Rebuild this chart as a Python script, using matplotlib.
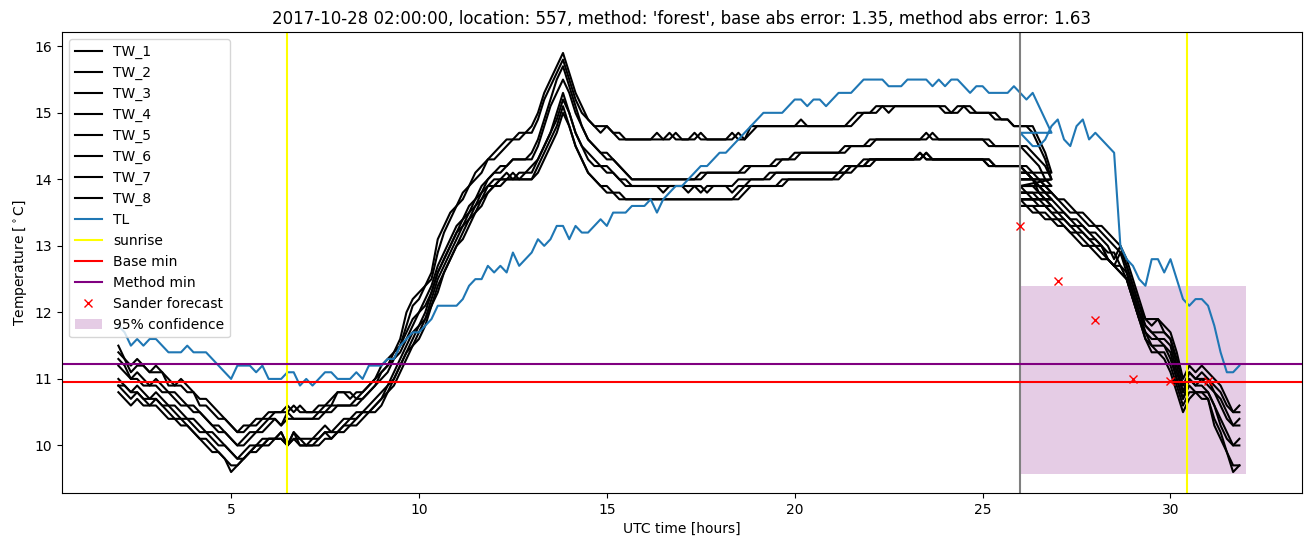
import numpy as np
import matplotlib
matplotlib.use("Agg")
import matplotlib.pyplot as plt

# time axis: 10-minute samples; local-clock hours repeat 26-27 (DST change)
hours_a = 2 + np.arange(150) / 6.0
hours_b = 26 + np.arange(36) / 6.0
hours = np.concatenate([hours_a, hours_b])

tw_1 = [11.5, 11.3, 11.2, 11.3, 11.2, 11.1,
        11.2, 11.1, 11.0, 10.9, 11.0, 10.9,
        10.8, 10.7, 10.7, 10.6, 10.5, 10.4,
        10.3, 10.2, 10.3, 10.3, 10.4, 10.4,
        10.5, 10.5, 10.5, 10.6, 10.5, 10.6,
        10.5, 10.5, 10.6, 10.6, 10.7, 10.8,
        10.8, 10.7, 10.8, 10.8, 10.9, 11.0,
        11.2, 11.3, 11.4, 11.6, 12.0, 12.2,
        12.3, 12.4, 12.6, 13.1, 13.3, 13.5,
        13.6, 13.8, 13.9, 14.1, 14.2, 14.3,
        14.4, 14.5, 14.6, 14.6, 14.7, 14.7,
        14.8, 15.0, 15.3, 15.5, 15.7, 15.9,
        15.6, 15.3, 15.1, 14.9, 14.8, 14.8,
        14.8, 14.7, 14.6, 14.6, 14.6, 14.6,
        14.6, 14.6, 14.7, 14.6, 14.6, 14.7,
        14.6, 14.6, 14.7, 14.6, 14.6, 14.6,
        14.6, 14.6, 14.7, 14.6, 14.6, 14.8,
        14.8, 14.8, 14.8, 14.8, 14.8, 14.8,
        14.8, 14.8, 14.8, 14.8, 14.8, 14.8,
        14.8, 14.8, 14.8, 14.9, 15.0, 15.0,
        15.0, 15.1, 15.1, 15.0, 15.1, 15.1,
        15.1, 15.1, 15.1, 15.1, 15.1, 15.1,
        15.0, 15.0, 15.1, 15.1, 15.1, 15.0,
        15.0, 15.0, 14.9, 14.9, 14.9, 14.8,
        14.8, 14.8, 14.8, 14.6, 14.4, 14.1,
        14.1, 14.1, 14.0, 14.0, 13.9, 13.8,
        13.7, 13.7, 13.6, 13.5, 13.5, 13.4,
        13.3, 13.3, 13.2, 13.1, 13.0, 12.8,
        12.5, 12.2, 11.9, 11.9, 11.9, 11.8,
        11.7, 11.4, 11.0, 11.2, 11.1, 11.2,
        11.1, 11.0, 10.9, 10.7, 10.5, 10.6]

tw_2 = [11.4, 11.3, 11.1, 11.2, 11.2, 11.1,
        11.1, 11.1, 10.9, 10.9, 10.9, 10.8,
        10.8, 10.6, 10.6, 10.5, 10.4, 10.4,
        10.3, 10.2, 10.2, 10.3, 10.3, 10.4,
        10.4, 10.5, 10.5, 10.5, 10.6, 10.5,
        10.5, 10.5, 10.5, 10.6, 10.6, 10.8,
        10.8, 10.8, 10.7, 10.8, 10.9, 11.0,
        11.1, 11.2, 11.4, 11.5, 11.8, 12.1,
        12.2, 12.4, 12.5, 12.9, 13.2, 13.4,
        13.6, 13.7, 13.9, 14.0, 14.1, 14.3,
        14.3, 14.4, 14.5, 14.6, 14.6, 14.7,
        14.7, 14.9, 15.2, 15.4, 15.6, 15.8,
        15.5, 15.2, 15.0, 14.9, 14.8, 14.7,
        14.8, 14.7, 14.7, 14.6, 14.6, 14.6,
        14.6, 14.6, 14.6, 14.6, 14.7, 14.6,
        14.6, 14.6, 14.6, 14.7, 14.6, 14.6,
        14.6, 14.6, 14.6, 14.7, 14.6, 14.7,
        14.8, 14.8, 14.8, 14.8, 14.8, 14.8,
        14.8, 14.9, 14.8, 14.8, 14.8, 14.8,
        14.8, 14.8, 14.8, 14.8, 14.9, 15.0,
        15.0, 15.0, 15.1, 15.1, 15.1, 15.1,
        15.1, 15.1, 15.1, 15.1, 15.1, 15.1,
        15.1, 15.0, 15.0, 15.1, 15.0, 15.0,
        15.0, 15.0, 15.0, 14.9, 14.9, 14.8,
        14.8, 14.8, 14.7, 14.5, 14.3, 14.0,
        14.0, 14.0, 14.0, 13.9, 13.8, 13.8,
        13.7, 13.6, 13.5, 13.5, 13.4, 13.3,
        13.3, 13.2, 13.1, 13.0, 12.9, 12.7,
        12.4, 12.1, 11.9, 11.8, 11.9, 11.7,
        11.6, 11.3, 10.9, 11.1, 11.0, 11.1,
        11.0, 10.9, 10.8, 10.6, 10.5, 10.5]

tw_3 = [11.3, 11.2, 11.0, 11.1, 11.0, 10.9,
        11.0, 10.9, 10.8, 10.8, 10.7, 10.6,
        10.6, 10.5, 10.4, 10.3, 10.3, 10.2,
        10.1, 10.0, 10.1, 10.2, 10.2, 10.3,
        10.4, 10.4, 10.3, 10.5, 10.4, 10.4,
        10.4, 10.4, 10.5, 10.5, 10.6, 10.6,
        10.6, 10.6, 10.7, 10.7, 10.8, 10.9,
        11.1, 11.2, 11.3, 11.5, 11.7, 11.9,
        12.0, 12.2, 12.4, 12.7, 12.9, 13.1,
        13.3, 13.4, 13.6, 13.7, 13.9, 14.0,
        14.1, 14.2, 14.2, 14.3, 14.3, 14.3,
        14.4, 14.6, 14.9, 15.2, 15.5, 15.7,
        15.4, 15.1, 14.8, 14.6, 14.5, 14.4,
        14.4, 14.3, 14.2, 14.1, 14.0, 14.0,
        14.0, 14.0, 14.0, 14.0, 14.0, 14.0,
        14.0, 14.0, 14.0, 14.1, 14.1, 14.1,
        14.1, 14.1, 14.1, 14.1, 14.1, 14.2,
        14.2, 14.2, 14.2, 14.2, 14.3, 14.3,
        14.3, 14.4, 14.4, 14.4, 14.4, 14.4,
        14.4, 14.4, 14.4, 14.5, 14.5, 14.5,
        14.5, 14.6, 14.6, 14.6, 14.6, 14.6,
        14.6, 14.6, 14.6, 14.7, 14.6, 14.6,
        14.6, 14.6, 14.6, 14.6, 14.6, 14.6,
        14.6, 14.5, 14.5, 14.5, 14.5, 14.5,
        14.5, 14.5, 14.4, 14.3, 14.2, 14.0,
        13.9, 13.9, 13.9, 13.8, 13.7, 13.7,
        13.6, 13.5, 13.4, 13.4, 13.3, 13.2,
        13.2, 13.1, 13.0, 12.8, 13.0, 12.7,
        12.4, 12.1, 11.8, 11.7, 11.7, 11.7,
        11.6, 11.2, 10.8, 11.1, 11.0, 11.0,
        11.0, 10.8, 10.7, 10.5, 10.3, 10.4]

tw_4 = [11.2, 11.1, 11.0, 11.0, 10.9, 10.9,
        10.9, 10.8, 10.8, 10.7, 10.6, 10.6,
        10.5, 10.5, 10.4, 10.3, 10.2, 10.2,
        10.1, 10.0, 10.0, 10.1, 10.2, 10.2,
        10.3, 10.4, 10.3, 10.4, 10.4, 10.4,
        10.4, 10.4, 10.4, 10.5, 10.5, 10.6,
        10.6, 10.6, 10.6, 10.7, 10.8, 10.9,
        11.0, 11.1, 11.3, 11.4, 11.6, 11.8,
        12.0, 12.1, 12.3, 12.6, 12.8, 13.0,
        13.2, 13.4, 13.5, 13.7, 13.8, 14.0,
        14.1, 14.1, 14.2, 14.3, 14.3, 14.3,
        14.3, 14.5, 14.8, 15.1, 15.3, 15.5,
        15.3, 15.0, 14.8, 14.6, 14.5, 14.4,
        14.3, 14.3, 14.2, 14.1, 14.0, 14.0,
        14.0, 14.0, 14.0, 14.0, 14.0, 14.0,
        14.0, 14.0, 14.0, 14.0, 14.1, 14.1,
        14.1, 14.1, 14.1, 14.1, 14.2, 14.2,
        14.2, 14.2, 14.2, 14.3, 14.3, 14.3,
        14.4, 14.4, 14.4, 14.4, 14.4, 14.4,
        14.4, 14.4, 14.5, 14.5, 14.5, 14.5,
        14.6, 14.6, 14.6, 14.6, 14.6, 14.6,
        14.6, 14.6, 14.6, 14.6, 14.7, 14.6,
        14.6, 14.6, 14.6, 14.6, 14.6, 14.6,
        14.6, 14.6, 14.5, 14.5, 14.5, 14.5,
        14.5, 14.4, 14.3, 14.2, 14.0, 13.9,
        13.9, 13.8, 13.8, 13.7, 13.7, 13.6,
        13.5, 13.5, 13.4, 13.3, 13.3, 13.2,
        13.1, 13.0, 12.9, 12.9, 12.7, 12.6,
        12.3, 12.0, 11.8, 11.7, 11.6, 11.6,
        11.5, 11.1, 10.8, 11.0, 10.9, 11.0,
        10.9, 10.8, 10.6, 10.4, 10.3, 10.3]

tw_5 = [11.0, 10.9, 10.8, 10.9, 10.8, 10.7,
        10.8, 10.7, 10.6, 10.6, 10.5, 10.4,
        10.4, 10.3, 10.2, 10.2, 10.1, 10.0,
        9.9, 9.8, 9.9, 10.0, 10.0, 10.1,
        10.1, 10.1, 10.2, 10.0, 10.2, 10.1,
        10.1, 10.1, 10.2, 10.3, 10.2, 10.3,
        10.4, 10.4, 10.5, 10.5, 10.6, 10.7,
        10.8, 10.9, 11.1, 11.3, 11.5, 11.7,
        11.8, 12.0, 12.3, 12.6, 12.8, 13.0,
        13.2, 13.3, 13.5, 13.6, 13.8, 13.9,
        14.0, 14.0, 14.1, 14.0, 14.1, 14.1,
        14.2, 14.3, 14.5, 14.7, 15.0, 15.3,
        15.0, 14.7, 14.5, 14.4, 14.3, 14.2,
        14.2, 14.1, 14.0, 14.0, 13.9, 13.9,
        13.9, 13.9, 13.9, 13.9, 13.9, 13.9,
        13.9, 13.8, 13.9, 13.9, 13.8, 13.9,
        13.9, 13.9, 13.8, 13.9, 13.9, 14.0,
        14.0, 14.0, 14.0, 14.1, 14.1, 14.1,
        14.1, 14.1, 14.1, 14.1, 14.1, 14.1,
        14.1, 14.1, 14.1, 14.2, 14.2, 14.2,
        14.3, 14.3, 14.3, 14.3, 14.3, 14.3,
        14.3, 14.3, 14.4, 14.3, 14.3, 14.3,
        14.3, 14.3, 14.3, 14.3, 14.3, 14.3,
        14.3, 14.3, 14.2, 14.2, 14.2, 14.2,
        14.2, 14.2, 14.1, 14.0, 13.9, 13.8,
        13.8, 13.8, 13.7, 13.7, 13.6, 13.5,
        13.5, 13.4, 13.3, 13.3, 13.2, 13.1,
        13.1, 13.0, 12.8, 12.7, 12.9, 12.6,
        12.3, 12.0, 11.7, 11.6, 11.6, 11.5,
        11.4, 11.0, 10.7, 11.0, 10.9, 10.9,
        10.8, 10.6, 10.4, 10.2, 10.0, 10.1]

tw_6 = [10.9, 10.9, 10.8, 10.8, 10.7, 10.7,
        10.7, 10.6, 10.6, 10.5, 10.4, 10.4,
        10.3, 10.2, 10.2, 10.1, 10.0, 10.0,
        9.9, 9.8, 9.8, 9.9, 10.0, 10.0,
        10.1, 10.1, 10.1, 10.0, 10.1, 10.1,
        10.0, 10.1, 10.1, 10.2, 10.2, 10.2,
        10.3, 10.4, 10.4, 10.5, 10.5, 10.6,
        10.7, 10.9, 11.0, 11.2, 11.4, 11.6,
        11.8, 11.9, 12.2, 12.5, 12.7, 12.9,
        13.1, 13.3, 13.4, 13.6, 13.7, 13.9,
        13.9, 14.0, 14.0, 14.1, 14.0, 14.1,
        14.1, 14.3, 14.5, 14.7, 14.9, 15.2,
        15.0, 14.7, 14.5, 14.3, 14.2, 14.2,
        14.1, 14.1, 14.0, 13.9, 13.9, 13.9,
        13.9, 13.9, 13.9, 13.8, 13.9, 13.9,
        13.9, 13.9, 13.9, 13.8, 13.9, 13.9,
        13.9, 13.9, 13.9, 14.0, 14.0, 14.0,
        14.0, 14.0, 14.1, 14.1, 14.1, 14.1,
        14.1, 14.1, 14.1, 14.1, 14.1, 14.1,
        14.1, 14.1, 14.2, 14.2, 14.2, 14.3,
        14.3, 14.3, 14.3, 14.3, 14.3, 14.3,
        14.3, 14.3, 14.3, 14.4, 14.3, 14.3,
        14.3, 14.3, 14.3, 14.3, 14.3, 14.3,
        14.3, 14.2, 14.2, 14.2, 14.2, 14.2,
        14.2, 14.1, 14.0, 13.9, 13.8, 13.7,
        13.7, 13.7, 13.7, 13.6, 13.6, 13.5,
        13.4, 13.4, 13.3, 13.2, 13.2, 13.1,
        13.0, 13.0, 12.8, 12.7, 12.7, 12.5,
        12.2, 11.9, 11.7, 11.5, 11.5, 11.5,
        11.3, 11.0, 10.7, 10.9, 10.8, 10.8,
        10.8, 10.6, 10.3, 10.1, 10.0, 10.0]

tw_7 = [10.9, 10.8, 10.7, 10.8, 10.7, 10.6,
        10.7, 10.6, 10.5, 10.4, 10.4, 10.3,
        10.2, 10.1, 10.1, 10.0, 9.9, 9.8,
        9.6, 9.7, 9.8, 9.9, 10.0, 10.0,
        10.1, 10.1, 10.2, 10.0, 10.2, 10.0,
        10.0, 10.0, 10.1, 10.2, 10.1, 10.2,
        10.3, 10.3, 10.4, 10.5, 10.5, 10.6,
        10.7, 10.8, 11.0, 11.2, 11.4, 11.5,
        11.7, 11.9, 12.1, 12.4, 12.6, 12.8,
        13.0, 13.2, 13.4, 13.5, 13.7, 13.8,
        13.9, 14.0, 14.0, 14.0, 14.0, 14.0,
        14.0, 14.2, 14.4, 14.6, 14.8, 15.1,
        14.8, 14.5, 14.3, 14.1, 14.0, 13.9,
        13.9, 13.8, 13.8, 13.7, 13.7, 13.7,
        13.7, 13.7, 13.7, 13.7, 13.7, 13.7,
        13.7, 13.7, 13.7, 13.7, 13.7, 13.7,
        13.7, 13.7, 13.7, 13.8, 13.9, 13.9,
        13.9, 13.9, 13.9, 13.9, 13.9, 14.0,
        14.0, 14.0, 14.0, 14.0, 14.0, 14.0,
        14.0, 14.0, 14.1, 14.2, 14.2, 14.2,
        14.3, 14.3, 14.3, 14.3, 14.3, 14.3,
        14.3, 14.3, 14.4, 14.3, 14.3, 14.3,
        14.3, 14.3, 14.3, 14.3, 14.3, 14.3,
        14.3, 14.3, 14.2, 14.2, 14.2, 14.2,
        14.2, 14.1, 14.0, 13.9, 13.8, 13.7,
        13.7, 13.6, 13.6, 13.5, 13.5, 13.4,
        13.4, 13.3, 13.2, 13.2, 13.1, 13.0,
        13.0, 12.9, 12.8, 12.7, 12.6, 12.5,
        12.2, 11.9, 11.6, 11.5, 11.4, 11.4,
        11.2, 10.9, 10.6, 10.8, 10.8, 10.8,
        10.7, 10.4, 10.2, 9.9, 9.7, 9.7]

tw_8 = [10.8, 10.7, 10.6, 10.7, 10.6, 10.6,
        10.6, 10.5, 10.4, 10.4, 10.3, 10.3,
        10.2, 10.1, 10.0, 9.9, 9.9, 9.8,
        9.7, 9.7, 9.8, 9.9, 9.9, 10.0,
        10.0, 10.1, 10.1, 10.0, 10.1, 10.0,
        10.0, 10.0, 10.0, 10.1, 10.1, 10.2,
        10.2, 10.3, 10.3, 10.4, 10.5, 10.5,
        10.6, 10.8, 10.9, 11.1, 11.3, 11.5,
        11.6, 11.8, 12.1, 12.3, 12.6, 12.8,
        13.0, 13.1, 13.3, 13.5, 13.6, 13.8,
        13.9, 13.9, 14.0, 14.0, 14.0, 14.0,
        14.0, 14.1, 14.3, 14.5, 14.7, 15.0,
        14.8, 14.5, 14.3, 14.1, 14.0, 13.9,
        13.8, 13.8, 13.7, 13.7, 13.7, 13.7,
        13.7, 13.7, 13.7, 13.7, 13.7, 13.7,
        13.7, 13.7, 13.7, 13.7, 13.7, 13.7,
        13.7, 13.7, 13.7, 13.7, 13.8, 13.9,
        13.9, 13.9, 13.9, 13.9, 14.0, 14.0,
        14.0, 14.0, 14.0, 14.0, 14.0, 14.0,
        14.0, 14.1, 14.1, 14.1, 14.2, 14.2,
        14.2, 14.3, 14.3, 14.3, 14.3, 14.3,
        14.3, 14.3, 14.3, 14.4, 14.3, 14.3,
        14.3, 14.3, 14.3, 14.3, 14.3, 14.3,
        14.3, 14.2, 14.2, 14.2, 14.2, 14.2,
        14.2, 14.1, 14.0, 13.8, 13.7, 13.6,
        13.6, 13.6, 13.5, 13.5, 13.4, 13.4,
        13.3, 13.3, 13.2, 13.1, 13.0, 13.0,
        12.9, 12.8, 12.8, 12.7, 12.6, 12.5,
        12.2, 11.9, 11.6, 11.4, 11.4, 11.3,
        11.1, 10.8, 10.5, 10.7, 10.8, 10.7,
        10.7, 10.3, 10.1, 9.9, 9.6, 9.7]

tl = [11.8, 11.7, 11.5, 11.6, 11.5, 11.6,
      11.6, 11.5, 11.4, 11.4, 11.4, 11.5,
      11.4, 11.4, 11.4, 11.3, 11.2, 11.1,
      11.0, 11.2, 11.2, 11.2, 11.1, 11.2,
      11.0, 11.0, 11.0, 11.1, 11.1, 10.9,
      11.0, 10.9, 11.0, 11.1, 11.1, 11.0,
      11.0, 11.0, 11.1, 11.0, 11.2, 11.2,
      11.2, 11.3, 11.3, 11.5, 11.6, 11.7,
      11.7, 11.8, 11.9, 12.1, 12.1, 12.1,
      12.1, 12.2, 12.4, 12.5, 12.5, 12.7,
      12.6, 12.7, 12.6, 12.9, 12.7, 12.8,
      12.9, 13.1, 13.0, 13.1, 13.3, 13.3,
      13.1, 13.3, 13.2, 13.2, 13.3, 13.4,
      13.3, 13.5, 13.5, 13.5, 13.6, 13.6,
      13.6, 13.7, 13.5, 13.7, 13.8, 13.9,
      13.9, 14.0, 14.1, 14.2, 14.2, 14.3,
      14.4, 14.4, 14.5, 14.6, 14.7, 14.8,
      14.9, 15.0, 15.0, 15.0, 15.0, 15.1,
      15.2, 15.2, 15.1, 15.2, 15.2, 15.1,
      15.2, 15.3, 15.3, 15.3, 15.4, 15.5,
      15.5, 15.5, 15.5, 15.4, 15.4, 15.4,
      15.5, 15.5, 15.5, 15.5, 15.4, 15.5,
      15.4, 15.5, 15.5, 15.4, 15.3, 15.4,
      15.4, 15.3, 15.3, 15.3, 15.3, 15.4,
      15.3, 15.2, 15.3, 15.1, 14.9, 14.7,
      14.7, 14.6, 14.5, 14.5, 14.6, 14.8,
      14.9, 14.6, 14.5, 14.8, 14.9, 14.6,
      14.7, 14.6, 14.5, 14.4, 13.0, 12.8,
      12.7, 12.5, 12.4, 12.8, 12.8, 12.6,
      12.8, 12.5, 12.2, 12.1, 12.2, 12.2,
      12.1, 11.8, 11.4, 11.1, 11.1, 11.2]

tw_series = [tw_1, tw_2, tw_3, tw_4, tw_5, tw_6, tw_7, tw_8]
tw_labels = ["TW_1", "TW_2", "TW_3", "TW_4", "TW_5", "TW_6", "TW_7", "TW_8"]

sunrise_hours = [6.48, 30.45]
forecast_start = 26.0
base_min = 10.95
method_min = 11.23
sander_hours = [26, 27, 28, 29, 30, 31]
sander_temps = [13.3, 12.47, 11.88, 11.0, 10.97, 10.97]
conf_hours = [26.0, 32.0]
conf_low = 9.57
conf_high = 12.40

title = ("2017-10-28 02:00:00, location: 557, method: 'forest', "
         "base abs error: 1.35, method abs error: 1.63")

fig = plt.figure(figsize=(13.11, 5.47), dpi=100)
ax = fig.add_axes([62 / 1311, 1 - 493 / 547, (1302 - 62) / 1311, (493 - 32) / 547])

for vals, lab in zip(tw_series, tw_labels):
    ax.plot(hours, vals, color="black", label=lab)
ax.plot(hours, tl, color="#1f77b4", label="TL")

ax.axvline(sunrise_hours[0], color="yellow", label="sunrise")
ax.axvline(sunrise_hours[1], color="yellow")
ax.axvline(forecast_start, color="grey")
ax.axhline(base_min, color="red", label="Base min")
ax.axhline(method_min, color="purple", label="Method min")
ax.plot(sander_hours, sander_temps, "x", color="red", linestyle="none",
        label="Sander forecast")
ax.fill_between(conf_hours, [conf_low] * 2, [conf_high] * 2, color="purple",
                alpha=0.2, linewidth=0, label="95% confidence")

ax.set_xlim(0.5, 33.5)
ax.set_ylim(9.285, 16.215)
ax.set_xticks([5, 10, 15, 20, 25, 30])
ax.set_title(title)
ax.set_xlabel("UTC time [hours]")
ax.set_ylabel("Temperature [$^\\circ$C]")
ax.legend(loc="upper left")

fig.savefig("out.png", dpi=100)
